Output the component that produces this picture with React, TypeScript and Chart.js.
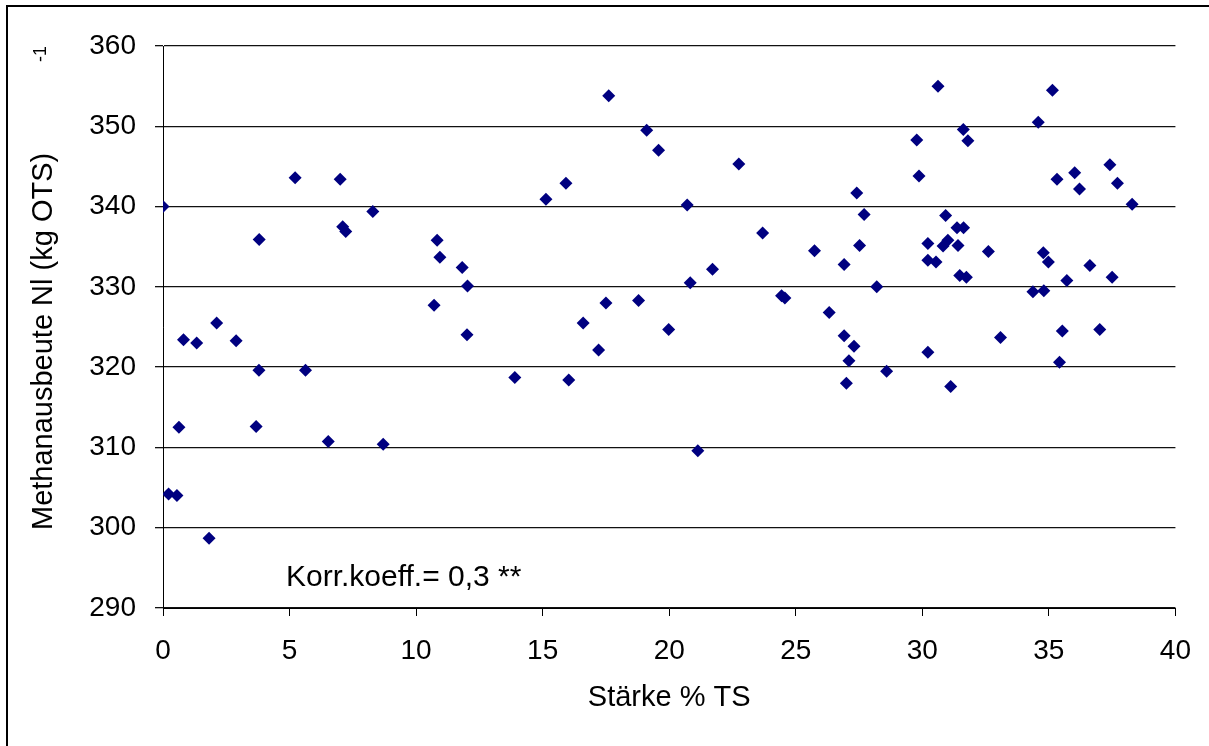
import React, { useEffect, useRef } from "react";
import { Chart, registerables } from "chart.js";

Chart.register(...registerables);

// Stärke (% TS) of each sample
const starke: number[] = [
  0.0, 0.22, 0.55, 0.63, 0.81, 1.33, 1.82, 2.12, 2.89, 3.68,
  3.79, 3.8, 5.22, 5.63, 6.53, 7.0, 7.1, 7.22, 8.29, 8.7,
  10.71, 10.83, 10.94, 11.82, 12.01, 12.03, 13.9, 15.13, 15.92, 16.03,
  16.6, 17.21, 17.5, 17.61, 18.79, 19.11, 19.58, 19.98, 20.71, 20.83,
  21.13, 21.71, 22.75, 23.69, 24.44, 24.57, 25.74, 26.32, 26.91, 26.91,
  27.0, 27.1, 27.3, 27.41, 27.52, 27.7, 28.2, 28.59, 29.78, 29.87,
  30.22, 30.22, 30.22, 30.54, 30.62, 30.82, 30.92, 31.01, 31.12, 31.37,
  31.41, 31.48, 31.62, 31.63, 31.74, 31.8, 32.61, 33.09, 34.37, 34.58,
  34.78, 34.8, 34.98, 35.14, 35.32, 35.42, 35.53, 35.71, 36.02, 36.21,
  36.62, 37.01, 37.41, 37.5, 37.71, 38.29,
];

// Methanausbeute Nl (kg OTS)^-1 of each sample
const methan: number[] = [
  340.0, 304.2, 304.0, 312.5, 323.4, 323.0, 298.7, 325.5, 323.3, 312.6,
  319.6, 335.9, 343.6, 319.6, 310.75, 343.4, 337.5, 336.9, 339.4, 310.4,
  327.7, 335.8, 333.7, 332.4, 324.05, 330.1, 318.7, 340.9, 342.9, 318.4,
  325.5, 322.15, 328.0, 353.8, 328.3, 349.5, 347.0, 324.7, 340.2, 330.5,
  309.6, 332.2, 345.3, 336.7, 328.9, 328.6, 334.5, 326.8, 332.8, 323.9,
  318.0, 320.8, 322.6, 341.7, 335.15, 339.0, 330.0, 319.5, 348.3, 343.8,
  335.4, 333.3, 321.85, 333.1, 355.0, 335.1, 338.9, 335.8, 317.6, 337.35,
  335.15, 331.4, 349.6, 337.35, 331.2, 348.2, 334.4, 323.7, 329.4, 350.5,
  334.25, 329.5, 333.1, 354.5, 343.4, 320.6, 324.5, 330.8, 344.2, 342.2,
  332.65, 324.7, 345.2, 331.2, 342.9, 340.3,
];

const xTicks: number[] = [0, 5, 10, 15, 20, 25, 30, 35, 40];
const yTicks: number[] = [290, 300, 310, 320, 330, 340, 350, 360];

const xTitle = "Stärke % TS";
const yTitle = "Methanausbeute Nl (kg OTS)";
const yTitleSup = "-1";
const note = "Korr.koeff.= 0,3 **";

const FONT = "'Liberation Sans', Arial, sans-serif";
const W = 1209;
const H = 746;

// Draws the frame, axis titles and the correlation note.
const textPlugin = {
  id: "textPlugin",
  afterDraw(chart: Chart) {
    const ctx = chart.ctx;
    const area = chart.chartArea;
    ctx.save();
    ctx.fillStyle = "#000";
    // frame (left and top edges)
    ctx.fillRect(6, 5, 2, H - 5);
    ctx.fillRect(6, 5, W - 6, 2);

    // x-axis title
    ctx.font = `29px ${FONT}`;
    ctx.textAlign = "center";
    ctx.textBaseline = "middle";
    ctx.fillText(xTitle, (area.left + area.right) / 2, 698);

    // correlation note
    ctx.font = `30px ${FONT}`;
    ctx.textAlign = "left";
    ctx.fillText(note, 286, 578);

    // y-axis title, read bottom to top, with its superscript near the top
    ctx.translate(44, 0);
    ctx.rotate(-Math.PI / 2);
    ctx.font = `29px ${FONT}`;
    ctx.textAlign = "left";
    ctx.fillText(yTitle, -530, 0);
    ctx.font = `18px ${FONT}`;
    ctx.fillText(yTitleSup, -62, -3);
    ctx.restore();
  },
};

export default function App() {
  const canvasRef = useRef<HTMLCanvasElement | null>(null);

  useEffect(() => {
    const canvas = canvasRef.current;
    if (!canvas) return;
    const chart = new Chart(canvas, {
      type: "scatter",
      data: {
        datasets: [
          {
            data: starke.map((x, i) => ({ x, y: methan[i] })),
            pointStyle: "rectRot",
            pointRadius: 6.5,
            pointHoverRadius: 6.5,
            pointBackgroundColor: "#000080",
            pointBorderColor: "#000080",
            pointBorderWidth: 0,
          },
        ],
      },
      options: {
        responsive: false,
        animation: false,
        devicePixelRatio: 1,
        layout: { padding: { left: 0, top: 46, right: 33, bottom: 0 } },
        plugins: {
          legend: { display: false },
          tooltip: { enabled: false },
        },
        scales: {
          x: {
            type: "linear",
            min: xTicks[0],
            max: xTicks[xTicks.length - 1],
            afterBuildTicks: (scale: any) => {
              scale.ticks = xTicks.map((v) => ({ value: v }));
            },
            afterFit: (scale: any) => {
              scale.height = 138;
            },
            ticks: {
              color: "#000",
              font: { family: FONT, size: 28 },
              padding: 18,
              maxRotation: 0,
              autoSkip: false,
            },
            grid: {
              drawOnChartArea: false,
              drawTicks: true,
              tickLength: 8,
              color: "#000",
              lineWidth: 1,
            },
            border: { color: "#000", width: 1 },
          },
          y: {
            type: "linear",
            min: yTicks[0],
            max: yTicks[yTicks.length - 1],
            afterBuildTicks: (scale: any) => {
              scale.ticks = yTicks.map((v) => ({ value: v }));
            },
            afterFit: (scale: any) => {
              scale.width = 163;
            },
            ticks: {
              color: "#000",
              font: { family: FONT, size: 28 },
              padding: 19,
              autoSkip: false,
            },
            grid: {
              color: "#111",
              lineWidth: 1.3,
              tickLength: 8,
            },
            border: { color: "#000", width: 1 },
          },
        },
      },
      plugins: [textPlugin],
    });
    return () => chart.destroy();
  }, []);

  return (
    <div style={{ position: "absolute", left: 0, top: 0, width: W, height: H, background: "#fff" }}>
      <canvas ref={canvasRef} width={W} height={H} style={{ display: "block", width: W, height: H }} />
    </div>
  );
}
